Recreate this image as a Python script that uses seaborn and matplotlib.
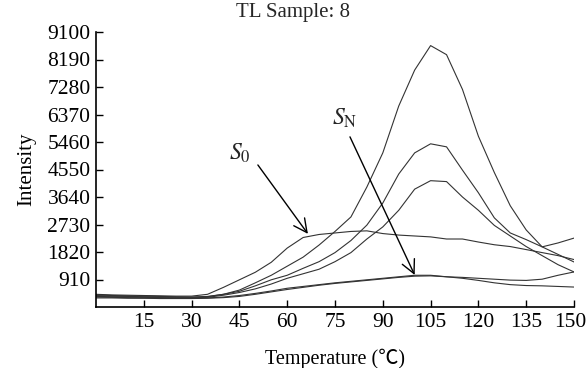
import matplotlib
matplotlib.use("Agg")
import matplotlib.pyplot as plt
import matplotlib.transforms as mtransforms
import seaborn as sns
import pandas as pd

# ---- data ----
temperature = [0, 5, 10, 15, 20, 25, 30, 35, 40, 45, 50, 55, 60, 65, 70, 75,
               80, 85, 90, 95, 100, 105, 110, 115, 120, 125, 130, 135, 140, 145, 150]

curve_a = [380, 360, 350, 340, 330, 320, 320, 340, 420, 560, 800, 1050, 1350, 1650, 2050, 2500,
           2980, 3970, 5100, 6650, 7840, 8650, 8350, 7200, 5650, 4450, 3350, 2550, 1990, 2120, 2280]
curve_b = [400, 380, 370, 360, 350, 340, 330, 350, 420, 520, 700, 900, 1050, 1280, 1500, 1800,
           2200, 2710, 3440, 4400, 5100, 5400, 5300, 4530, 3780, 2950, 2450, 2230, 1990, 1740, 1490]
curve_c = [350, 340, 330, 320, 310, 300, 300, 320, 390, 480, 600, 760, 950, 1100, 1250, 1500,
           1800, 2250, 2650, 3200, 3900, 4180, 4150, 3640, 3200, 2700, 2350, 2000, 1700, 1400, 1160]
curve_s0 = [420, 400, 390, 380, 370, 360, 360, 420, 650, 900, 1150, 1480, 1950, 2300, 2400, 2450,
            2500, 2520, 2430, 2380, 2350, 2320, 2250, 2250, 2150, 2060, 2000, 1900, 1800, 1700, 1570]
curve_d = [330, 320, 310, 300, 300, 290, 290, 300, 330, 380, 450, 530, 620, 680, 740, 800,
           850, 900, 950, 1000, 1050, 1050, 1000, 980, 950, 920, 890, 880, 920, 1050, 1160]
curve_e = [300, 300, 290, 290, 280, 280, 280, 290, 310, 350, 420, 500, 580, 650, 720, 780,
           830, 880, 930, 980, 1020, 1030, 1000, 950, 880, 800, 740, 710, 700, 680, 660]

x_ticks = [15, 30, 45, 60, 75, 90, 105, 120, 135, 150]
y_ticks = [910, 1820, 2730, 3640, 4550, 5460, 6370, 7280, 8190, 9100]

series = {"A": curve_a, "B": curve_b, "C": curve_c, "S0": curve_s0, "D": curve_d, "E": curve_e}
df = pd.concat([pd.DataFrame({"T": temperature, "I": v, "curve": k}) for k, v in series.items()],
               ignore_index=True)

sns.set_theme(style="white")
plt.rcParams["font.family"] = ["Liberation Serif", "Noto Sans CJK SC", "DejaVu Serif"]
plt.rcParams["mathtext.fontset"] = "stix"

fig = plt.figure(figsize=(5.87, 3.68), dpi=100)
ax = fig.add_axes([96 / 587, 1 - 307 / 368, (574 - 96) / 587, (307 - 32) / 368])

sns.lineplot(data=df, x="T", y="I", hue="curve", palette=["#333333"] * 6,
             linewidth=0.8, legend=False, ax=ax, estimator=None, sort=False)

ax.set_xlim(0, 150)
ax.set_ylim(0, 9100)
ax.set_xticks(x_ticks)
ax.set_yticks(y_ticks)
ax.tick_params(direction="in", length=5, width=1.0, labelsize=15.5, colors="black",
               left=True, bottom=True, pad=4)
for s in ["top", "right"]:
    ax.spines[s].set_visible(False)
for s in ["left", "bottom"]:
    ax.spines[s].set_color("black")
    ax.spines[s].set_linewidth(1.2)

# nudge the last x tick label slightly left so it stays inside the figure
last = ax.get_xticklabels()[-1]
last.set_transform(last.get_transform() + mtransforms.ScaledTranslation(-4 / 100, 0, fig.dpi_scale_trans))

ax.set_xlabel("Temperature (\u2103)", fontsize=14.5, color="black", labelpad=12)
ax.set_ylabel("Intensity", fontsize=15, color="black", labelpad=8)
fig.text(0.5, 1 - 12 / 368, "TL Sample: 8", ha="center", va="center", fontsize=15)

ap = dict(arrowstyle="->", lw=1.0, color="black", mutation_scale=24, shrinkA=0, shrinkB=0)
ax.annotate("", xy=(66.5, 2420), xytext=(50.8, 4700), arrowprops=ap)
ax.text(45.2, 5100, r"$S_{\mathrm{0}}$", fontsize=17, ha="center", va="center")
ax.annotate("", xy=(100, 1060), xytext=(79.7, 5630), arrowprops=ap)
ax.text(78.1, 6250, r"$S_{\mathrm{N}}$", fontsize=17, ha="center", va="center")

fig.savefig("out.png", dpi=100)
